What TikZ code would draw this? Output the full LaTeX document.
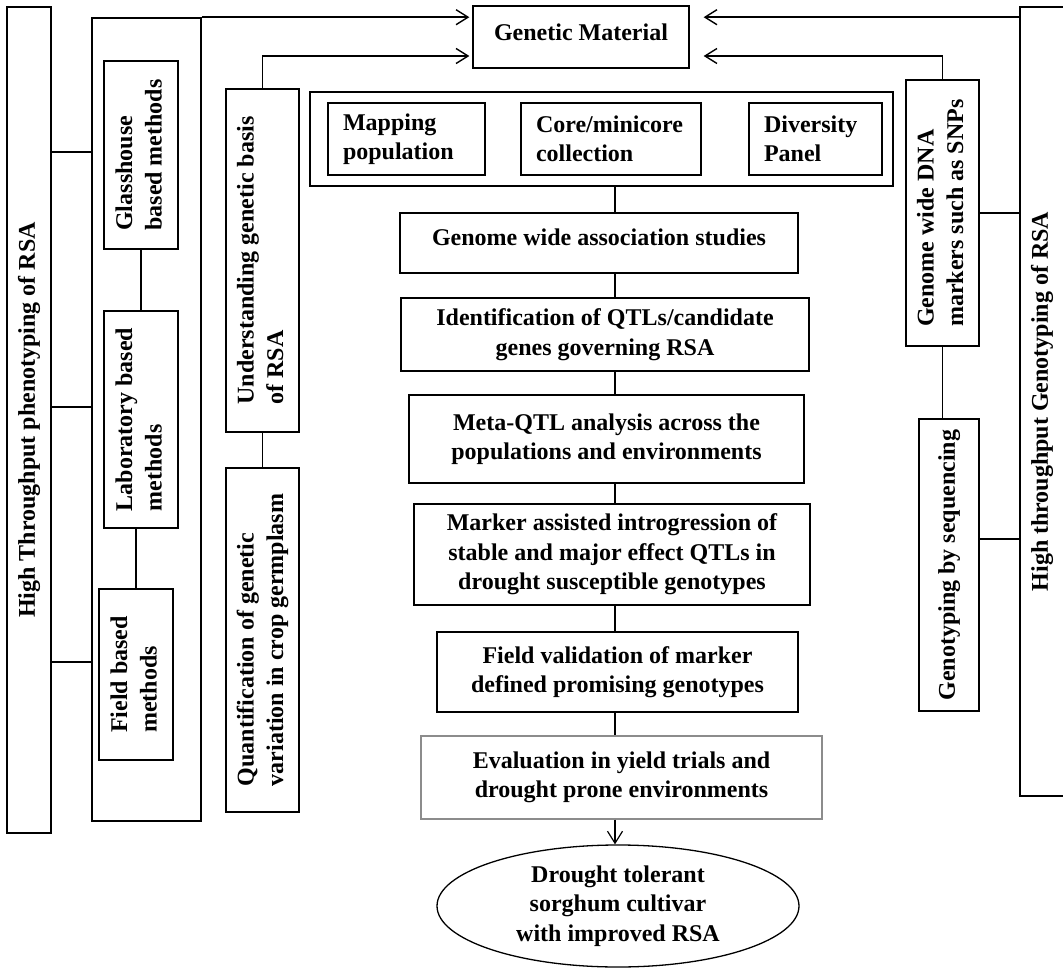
\documentclass[tikz,border=0pt]{standalone}
\usepackage{fontspec}
\setmainfont{Liberation Serif}
\usetikzlibrary{arrows.meta}
\usetikzlibrary{shapes.geometric}

% rotated text, lines set flush left
\newcommand{\vtext}[1]{\rotatebox{90}{\begin{tabular}{@{}l@{}}#1\end{tabular}}}

\begin{document}
\begin{tikzpicture}[
		x=1pt, y=-1pt,
		font=\fontsize{24}{29.5}\selectfont\bfseries,
		link/.style={line width=1.8pt},
		spine link/.style={line width=1.2pt},
		arrow/.style={line width=1.4pt, -{Straight Barb[length=12pt,width=15pt]}},
		block/.style={draw, line width=1.3pt, align=center, inner sep=0pt},
		vblock/.style={draw, line width=1.6pt, inner sep=0pt},
		item/.style={draw, line width=1.3pt, align=left, inner xsep=15pt, inner ysep=0pt, minimum height=72pt},
	]
	\useasboundingbox (0,0) rectangle (1063,968);

	\coordinate (spine) at (615,0);
	\coordinate (feed) at (0,56);
	\coordinate (rowA) at (0,152);
	\coordinate (rowB) at (0,407);
	\coordinate (rowC) at (0,662);
	\coordinate (rowD) at (0,539);

	% phenotyping side
	\node[vblock, minimum width=44pt, minimum height=826pt] (pheno) at (29,420) {\vtext{High Throughput phenotyping of RSA}};
	\node[vblock, minimum width=109pt, minimum height=803pt] (methods) at (146.5,419.5) {};
	\node[vblock, minimum width=74pt, minimum height=188pt] (glass) at (141,155) {\vtext{Glasshouse\\based methods}};
	\node[vblock, minimum width=74pt, minimum height=217pt] (lab) at (141,419.5) {\vtext{Laboratory based\\methods}};
	\node[vblock, minimum width=74pt, minimum height=171pt] (field) at (136,674.5) {\vtext{Field based\\methods}};
	\node[vblock, minimum width=73pt, minimum height=343pt] (und) at (262.5,260.5) {\vtext{Understanding genetic basis\\of RSA}};
	\node[vblock, minimum width=73pt, minimum height=344pt] (quant) at (262.5,640) {\vtext{Quantification of genetic\\variation in crop germplasm}};

	% genetic material and pipeline
	\node[block, text depth=10pt, minimum width=216pt, minimum height=62pt] (material) at (581,37) {Genetic Material};
	\node[block, minimum width=583pt, minimum height=94pt] (pool) at (601.5,139) {};
	\node[item, text width=127pt] (mapping) at (406.5,139) {Mapping\\population};
	\node[item, text width=150pt] (core) at (611,139) {Core/minicore\\collection};
	\node[item, text width=103pt] (diversity) at (815.5,139) {Diversity\\Panel};
	\node[block, text depth=12pt, minimum width=398pt, minimum height=60pt] (gwas) at (599,243) {Genome wide association studies};
	\node[block, minimum width=408pt, minimum height=73pt] (ident) at (605,334.5) {Identification of QTLs/candidate\\genes governing RSA};
	\node[block, minimum width=395pt, minimum height=88pt] (meta) at (606.5,439) {Meta-QTL analysis across the\\populations and environments};
	\node[block, minimum width=396pt, minimum height=101pt] (marker) at (612,554.5) {Marker assisted introgression of\\stable and major effect QTLs in\\drought susceptible genotypes};
	\node[block, minimum width=361pt, minimum height=80pt] (fieldval) at (617.5,672) {Field validation of marker\\defined promising genotypes};
	\node[block, draw=black!45, minimum width=401pt, minimum height=83pt] (eval) at (621.5,777.5) {Evaluation in yield trials and\\drought prone environments};
	\node[block, ellipse, minimum width=362pt, minimum height=122pt] (cultivar) at (618,906) {Drought tolerant\\sorghum cultivar\\with improved RSA};

	% genotyping side
	\node[vblock, minimum width=73pt, minimum height=266pt] (markers) at (942.5,213) {\vtext{Genome wide DNA\\markers such as SNPs}};
	\node[vblock, minimum width=60pt, minimum height=292pt] (gbs) at (949,565) {\vtext{Genotyping by sequencing}};
	\node[vblock, minimum width=44pt, minimum height=789pt] (geno) at (1042,401.5) {\vtext{High throughput Genotyping of RSA}};

	% left connectors
	\foreach \r in {rowA,rowB,rowC}
		\draw[link] (pheno.east |- \r) -- (methods.west |- \r);
	\draw[link] (glass) -- (lab);
	\draw[link] (lab.south -| field.north) -- (field.north);
	\draw[link] (und) -- (quant);
	\draw[arrow, shorten >=3pt] (methods.north east) -- (material.west |- methods.north);
	\draw[arrow, shorten >=3pt] (und.north) |- (material.west |- feed);

	% right connectors
	\draw[arrow, shorten >=14pt] (geno.west |- methods.north) -- (material.east |- methods.north);
	\draw[arrow, shorten >=14pt] (markers.north) |- (material.east |- feed);
	\draw[link] (markers.east) -- (markers.east -| geno.west);
	\draw[link] (markers.south) -- (markers.south |- gbs.north);
	\draw[link] (gbs.east |- rowD) -- (geno.west |- rowD);

	% pipeline
	\draw[spine link] (pool.south -| spine) -- (gwas.north -| spine);
	\foreach \a/\b in {gwas/ident, ident/meta, meta/marker, marker/fieldval, fieldval/eval}
		\draw[spine link] (\a.south -| spine) -- (\b.north -| spine);
	\draw[arrow, line width=1.2pt] (eval.south -| spine) -- (cultivar.north -| spine);
\end{tikzpicture}
\end{document}
